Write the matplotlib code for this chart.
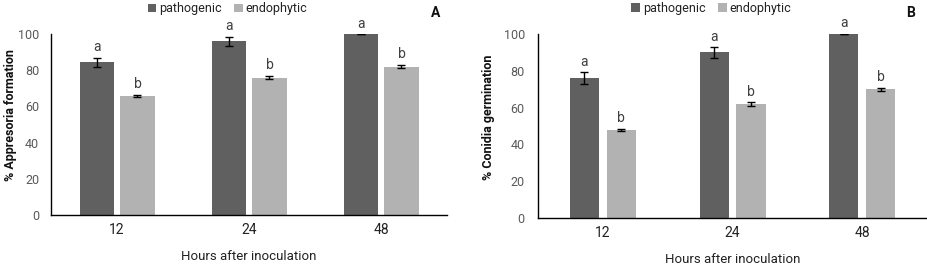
import matplotlib
matplotlib.use("Agg")
import matplotlib.pyplot as plt
import numpy as np

plt.rcParams['font.family'] = ['Roboto', 'DejaVu Sans']

hours = ["12", "24", "48"]
series = ["pathogenic", "endophytic"]

appr_path = [84.5, 96.0, 100.0]
appr_path_err = [2.4, 2.5, 0.0]
appr_endo = [65.7, 76.0, 82.0]
appr_endo_err = [0.6, 0.9, 0.9]
appr_letters_path = ["a", "a", "a"]
appr_letters_endo = ["b", "b", "b"]

germ_path = [76.0, 90.0, 100.0]
germ_path_err = [3.2, 2.8, 0.0]
germ_endo = [47.8, 62.0, 70.0]
germ_endo_err = [0.6, 0.9, 0.9]
germ_letters_path = ["a", "a", "a"]
germ_letters_endo = ["b", "b", "b"]

yticks = [0, 20, 40, 60, 80, 100]

c_path = "#606060"
c_endo = "#b2b2b2"
txt_gray = "#595959"

fig = plt.figure(figsize=(9.28, 2.66), dpi=100)


def panel(rect, path, perr, endo, eerr, lp, le, ylabel, tag, width, off, legx, tagx, ypad, ylx):
    ax = fig.add_axes(rect)
    x = np.arange(len(hours))
    ax.bar(x - off, path, width, color=c_path, label=series[0], zorder=2)
    ax.bar(x + off, endo, width, color=c_endo, label=series[1], zorder=2)
    ax.errorbar(x - off, path, yerr=perr, fmt='none', ecolor='black',
                elinewidth=1, capsize=3, capthick=1, zorder=3)
    ax.errorbar(x + off, endo, yerr=eerr, fmt='none', ecolor='black',
                elinewidth=1, capsize=3, capthick=1, zorder=3)
    for xi, v, e, l in zip(x - off, path, perr, lp):
        ax.text(xi, v + e + 2, l, ha='center', va='bottom', fontsize=10,
                color="#404040")
    for xi, v, e, l in zip(x + off, endo, eerr, le):
        ax.text(xi, v + e + 2, l, ha='center', va='bottom', fontsize=10,
                color="#404040")
    ax.set_xlim(-0.5, len(hours) - 0.5)
    ax.set_ylim(0, 100)
    ax.set_yticks(yticks)
    ax.set_yticklabels([str(t) for t in yticks], fontsize=9, color=txt_gray)
    ax.set_xticks(x)
    ax.set_xticklabels(hours, fontsize=10, color="#222222")
    ax.tick_params(axis='x', length=0, pad=6)
    ax.tick_params(axis='y', length=0, pad=ypad)
    for s in ['top', 'right']:
        ax.spines[s].set_visible(False)
    ax.spines['left'].set_linewidth(1)
    ax.spines['bottom'].set_linewidth(1)
    ax.set_ylabel(ylabel, fontsize=9, fontweight='bold', color="#111111")
    ax.yaxis.set_label_coords(ylx, 0.55)
    ax.set_xlabel("Hours after inoculation", fontsize=9.5, color="#222222", labelpad=9)
    leg = ax.legend(loc='center', bbox_to_anchor=(legx, 1.14), ncol=2, frameon=False,
                    fontsize=9, handlelength=0.7, handleheight=0.7, handletextpad=0.2,
                    columnspacing=1.0, borderaxespad=0)
    for t in leg.get_texts():
        t.set_color("#222222")
    fig.text(tagx, 0.95, tag, fontsize=10, fontweight='bold', ha='center', va='center',
             color="#111111")
    return ax


panel([0.055, 0.1917, 0.4267, 0.680], appr_path, appr_path_err, appr_endo, appr_endo_err,
      appr_letters_path, appr_letters_endo, "% Appresoria formation", "A",
      0.258, 0.155, 0.445, 0.469, 8.5, -0.085)
panel([0.5797, 0.1805, 0.4193, 0.6915], germ_path, germ_path_err, germ_endo, germ_endo_err,
      germ_letters_path, germ_letters_endo, "% Conidia germination", "B",
      0.225, 0.142, 0.445, 0.981, 9.5, -0.11)

fig.savefig("out.png", dpi=100)
